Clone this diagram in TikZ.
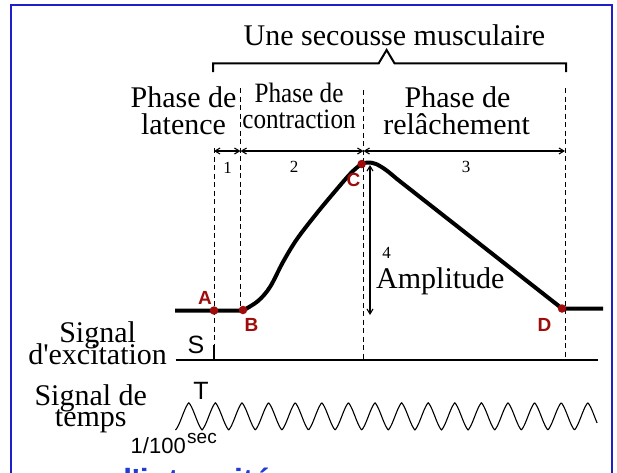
\documentclass[tikz,border=0pt]{standalone}
\usepackage{fontspec}
\setmainfont{Liberation Serif}
\setsansfont{Liberation Sans}
\newfontfamily\condserif[FakeStretch=0.9]{Liberation Serif}
\usetikzlibrary{arrows.meta}
\definecolor{dred}{RGB}{158,12,12}
\definecolor{frameblue}{RGB}{30,30,205}
\definecolor{txtblue}{RGB}{30,60,215}
\begin{document}
\begin{tikzpicture}[x=1pt,y=-1pt,
  big/.style={font=\fontsize{30}{30}\selectfont, inner sep=0, anchor=base},
  mid/.style={font=\condserif\fontsize{28}{28}\selectfont, inner sep=0, anchor=base},
  num/.style={font=\fontsize{17}{17}\selectfont, inner sep=0},
  pt/.style={circle, fill=dred, inner sep=0, minimum size=8.5pt},
  ptlabel/.style={font=\sffamily\bfseries\fontsize{19}{19}\selectfont, text=dred, inner sep=0},
  sanslbl/.style={font=\sffamily\fontsize{25}{25}\selectfont, inner sep=0},
  dline/.style={dash pattern=on 5pt off 3.5pt, line width=0.8pt},
  dimarrow/.style={line width=1.1pt, {Straight Barb[length=5pt,width=6pt]}-{Straight Barb[length=5pt,width=6pt]}},
  musc/.style={line width=4pt, line join=round},
  bluetext/.style={font=\sffamily\bfseries\fontsize{32}{32}\selectfont, text=txtblue, inner sep=0}]
\useasboundingbox (0,0) rectangle (617,472);
\fill[white] (0,0) rectangle (617,472);
% frame
\draw[frameblue, line width=2.5pt] (11,490) -- (11,5) -- (612,5) -- (612,490);
% title and brace
\node[big] (title) at (394.5,45) {Une secousse musculaire};
\draw[line width=2pt, line join=miter] (213,72) -- (213,63.3) -- (378.7,63.3) -- (386.6,50) -- (394.5,63.3) -- (566,63.3) -- (566,72);
% phase labels
\node[big] (lat1) at (183.5,107) {Phase de};
\node[big] (lat2) at (183.5,134) {latence};
\node[mid] (con1) at (299,102) {Phase de};
\node[mid] (con2) at (299,128.5) {contraction};
\node[big] (rel1) at (457.5,107) {Phase de};
\node[big] (rel2) at (456.6,134) {relâchement};
% points
\coordinate (At) at (214,148);
\coordinate (Bt) at (240.5,88);
\coordinate (Ct) at (363.5,90);
\coordinate (Dt) at (565,88);
\coordinate (Cb) at (363.5,360);
\coordinate (Db) at (565,360);
\coordinate (Stop) at (214,345);
\coordinate (Sbot) at (214,360);
\coordinate (Bb) at (240.5,308);
% dashed
\draw[dline] (At) -- (Stop);
\draw[dline] (Bt) -- (Bb);
\draw[dline] (Ct) -- (Cb);
\draw[dline] (Dt) -- (Db);
% dimension arrows
\coordinate (r0) at (214,151);
\coordinate (r1) at (240.5,151);
\coordinate (r2) at (363.5,151);
\coordinate (r3) at (565,151);
\draw[dimarrow] (r0) -- (r1);
\draw[dimarrow] (r1) -- (r2);
\draw[dimarrow] (r2) -- (r3);
\node[num] (n1) at (227.7,168) {1};
\node[num] (n2) at (294,167) {2};
\node[num] (n3) at (466,167) {3};
% muscle curve
\draw[musc] (175,310.5) -- (243,310.5)
  plot[smooth, tension=0.55] coordinates {(243,310.5) (258,301) (270,287) (283,262) (297,239) (317,213) (337,189) (351,173) (361,164.5) (368,162.5) (376,164) (386,170) (397,179)}
  -- (562,308.5) -- (603,308.5);
% amplitude
\coordinate (amt) at (370,165);
\coordinate (amb) at (370,315);
\draw[dimarrow] (amt) -- (amb);
\node[num] (n4) at (386.7,253) {4};
\node[big, anchor=base west] (amp) at (376,288) {Amplitude};
% dots
\node[pt] (A) at (214,310.5) {};
\node[pt] (B) at (243,310) {};
\node[pt] (C) at (361.7,164) {};
\node[pt] (D) at (562,308.5) {};
\node[ptlabel] (lA) at (205,298) {A};
\node[ptlabel] (lB) at (251.5,325) {B};
\node[ptlabel] (lC) at (353.5,180) {C};
\node[ptlabel] (lD) at (544.5,324.5) {D};
% excitation signal
\coordinate (e0) at (175.5,360);
\coordinate (e1) at (597.5,360);
\draw[line width=1.8pt] (e0) -- (e1);
\draw[line width=2.5pt] (Stop) -- (Sbot);
\node[sanslbl] (S) at (196,345) {S};
\node[big] (sig1) at (97.6,342) {Signal};
\node[big] (sig2) at (97.6,364) {d\textquotesingle excitation};
% time signal
\node[big] (tim1) at (90.8,405) {Signal de};
\node[big] (tim2) at (90.8,426.5) {temps};
\node[sanslbl] (T) at (201,391) {T};
\draw[line width=1.1pt, line join=round] plot[domain=0:15.85, samples=700, variable=\t]
  ({175.5+26.6*\t}, {416.35 + 13.65*(0.45*cos(360*\t) + 0.55*asin(cos(360*\t))/90)});
\node[font=\sffamily\fontsize{22}{22}\selectfont, inner sep=0, anchor=base west] (cent) at (130.5,453.5) {1/100};
\node[font=\sffamily\fontsize{19}{19}\selectfont, inner sep=0, anchor=base west] (sec) at (187,443) {sec};
% cut-off bottom text
\node[bluetext, anchor=base east] (bt1) at (103.5,491) {une secousse};
\node[bluetext, anchor=base west] (bt2) at (112.4,491) {d\textquotesingle intensité};
\end{tikzpicture}
\end{document}
